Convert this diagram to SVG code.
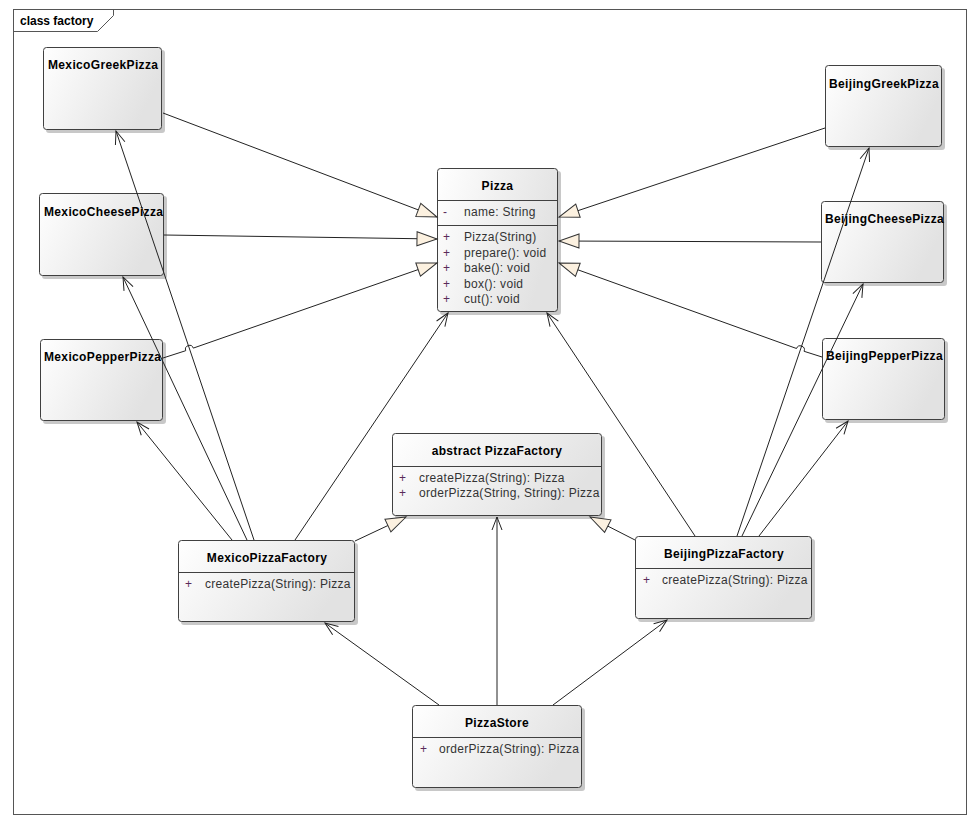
<svg xmlns="http://www.w3.org/2000/svg" width="976" height="826" viewBox="0 0 976 826">
<style>
.box{stroke:#404040;stroke-width:1;fill:url(#g)}
.sh{fill:#9a9a9a;opacity:0.55}
.div{stroke:#404040;stroke-width:1}
.name{font-family:"Liberation Sans",Arial,sans-serif;font-size:12px;font-weight:bold;fill:#000;letter-spacing:0.35px}
.title{font-family:"Liberation Sans",Arial,sans-serif;font-size:12px;font-weight:bold;fill:#000}
.mem{font-family:"Liberation Sans",Arial,sans-serif;font-size:12px;fill:#333;letter-spacing:0.3px}
.vis{font-family:"Liberation Sans",Arial,sans-serif;font-size:12px;fill:#5a2a5a}
.gen{stroke:#222;stroke-width:1;fill:none;marker-end:url(#tri)}
.asc{stroke:#222;stroke-width:1;fill:none;marker-end:url(#open)}
</style>
<defs>
<linearGradient id="g" x1="0" y1="0" x2="1" y2="0.35">
<stop offset="0" stop-color="#ffffff"/>
<stop offset="1" stop-color="#e2e2e2"/>
</linearGradient>
<marker id="tri" markerUnits="userSpaceOnUse" markerWidth="22" markerHeight="16" refX="20" refY="7" orient="auto" overflow="visible">
<path d="M0,0 L20,7 L0,14 Z" fill="#fcf1e0" stroke="#333" stroke-width="1"/>
</marker>
<marker id="open" markerUnits="userSpaceOnUse" markerWidth="14" markerHeight="12" refX="13" refY="5" orient="auto" overflow="visible">
<path d="M0,0 L13,5 L0,10" fill="none" stroke="#222" stroke-width="1"/>
</marker>
</defs>
<rect width="976" height="826" fill="#fff"/>
<g id="frame">
<rect x="13.5" y="9.5" width="953" height="805" fill="none" stroke="#555" stroke-width="1"/>
<path d="M13.5,31.5 H97.5 L113.5,15.5 V9.5" fill="none" stroke="#555" stroke-width="1"/>
<text x="20" y="25" class="title">class factory</text>
</g>
<g id="MexicoGreekPizza">
<rect class="sh" x="46" y="50" width="119" height="83" rx="3"/>
<rect class="box" x="43.5" y="47.5" width="118" height="82" rx="3"/>
<text class="name" x="48" y="69">MexicoGreekPizza</text>
</g>
<g id="MexicoCheesePizza">
<rect class="sh" x="42" y="196" width="125" height="83" rx="3"/>
<rect class="box" x="39.5" y="193.5" width="124" height="82" rx="3"/>
<text class="name" x="44" y="216">MexicoCheesePizza</text>
</g>
<g id="MexicoPepperPizza">
<rect class="sh" x="43" y="342" width="123" height="82" rx="3"/>
<rect class="box" x="40.5" y="339.5" width="122" height="81" rx="3"/>
<text class="name" x="44" y="361">MexicoPepperPizza</text>
</g>
<g id="BeijingGreekPizza">
<rect class="sh" x="828" y="68" width="117" height="82" rx="3"/>
<rect class="box" x="825.5" y="65.5" width="116" height="81" rx="3"/>
<text class="name" x="829" y="88">BeijingGreekPizza</text>
</g>
<g id="BeijingCheesePizza">
<rect class="sh" x="824" y="204" width="123" height="82" rx="3"/>
<rect class="box" x="821.5" y="201.5" width="122" height="81" rx="3"/>
<text class="name" x="825" y="223">BeijingCheesePizza</text>
</g>
<g id="BeijingPepperPizza">
<rect class="sh" x="825" y="341" width="123" height="82" rx="3"/>
<rect class="box" x="822.5" y="338.5" width="122" height="81" rx="3"/>
<text class="name" x="826" y="360">BeijingPepperPizza</text>
</g>
<g id="Pizza">
<rect class="sh" x="440" y="171" width="121" height="144" rx="3"/>
<rect class="box" x="437.5" y="168.5" width="120" height="143" rx="3"/>
<line class="div" x1="437.5" y1="200.5" x2="557.5" y2="200.5"/>
<line class="div" x1="437.5" y1="225.5" x2="557.5" y2="225.5"/>
<text class="name" x="497.5" y="190" text-anchor="middle">Pizza</text>
<text class="vis" x="443" y="216">-</text><text class="mem" x="464" y="216">name: String</text>
<text class="vis" x="443" y="241">+</text><text class="mem" x="464" y="241">Pizza(String)</text>
<text class="vis" x="443" y="257">+</text><text class="mem" x="464" y="257">prepare(): void</text>
<text class="vis" x="443" y="272">+</text><text class="mem" x="464" y="272">bake(): void</text>
<text class="vis" x="443" y="288">+</text><text class="mem" x="464" y="288">box(): void</text>
<text class="vis" x="443" y="303">+</text><text class="mem" x="464" y="303">cut(): void</text>
</g>
<g id="PizzaFactory">
<rect class="sh" x="395" y="436" width="210" height="83" rx="3"/>
<rect class="box" x="392.5" y="433.5" width="209" height="82" rx="3"/>
<line class="div" x1="392.5" y1="466.5" x2="601.5" y2="466.5"/>
<text class="name" x="497" y="455" text-anchor="middle">abstract PizzaFactory</text>
<text class="vis" x="399" y="482">+</text><text class="mem" x="419" y="482">createPizza(String): Pizza</text>
<text class="vis" x="399" y="497">+</text><text class="mem" x="419" y="497">orderPizza(String, String): Pizza</text>
</g>
<g id="MexicoPizzaFactory">
<rect class="sh" x="181" y="543" width="177" height="82" rx="3"/>
<rect class="box" x="178.5" y="540.5" width="176" height="81" rx="3"/>
<line class="div" x1="178.5" y1="572.5" x2="354.5" y2="572.5"/>
<text class="name" x="267" y="562" text-anchor="middle">MexicoPizzaFactory</text>
<text class="vis" x="185" y="588">+</text><text class="mem" x="205" y="588">createPizza(String): Pizza</text>
</g>
<g id="BeijingPizzaFactory">
<rect class="sh" x="638" y="539" width="177" height="83" rx="3"/>
<rect class="box" x="635.5" y="536.5" width="176" height="82" rx="3"/>
<line class="div" x1="635.5" y1="568.5" x2="811.5" y2="568.5"/>
<text class="name" x="724" y="558" text-anchor="middle">BeijingPizzaFactory</text>
<text class="vis" x="643" y="584">+</text><text class="mem" x="662" y="584">createPizza(String): Pizza</text>
</g>
<g id="PizzaStore">
<rect class="sh" x="415" y="708" width="170" height="83" rx="3"/>
<rect class="box" x="412.5" y="705.5" width="169" height="82" rx="3"/>
<line class="div" x1="412.5" y1="737.5" x2="581.5" y2="737.5"/>
<text class="name" x="497" y="727" text-anchor="middle">PizzaStore</text>
<text class="vis" x="420" y="753">+</text><text class="mem" x="439" y="753">orderPizza(String): Pizza</text>
</g>
<g id="connectors">
<path class="gen" d="M163,113 L437,217"/>
<path class="gen" d="M164,235 L437,239"/>
<path class="gen" d="M163,358 L185.7,350.7 A4,4 0 0 1 193.3,348.1 L437,263"/>
<path class="gen" d="M825,128 L559,217"/>
<path class="gen" d="M821,242 L559,241"/>
<path class="gen" d="M822,357 L804.1,351.3 A4,4 0 0 0 796.5,348.5 L559,263"/>
<path class="gen" d="M355,541 L406,517"/>
<path class="gen" d="M635,540 L590,517"/>
<path class="asc" d="M254,540 L116,131"/>
<path class="asc" d="M247,540 L123,277"/>
<path class="asc" d="M232,540 L137,422"/>
<path class="asc" d="M295,540 L448,313"/>
<path class="asc" d="M737,536 L869,148"/>
<path class="asc" d="M742,536 L863,284"/>
<path class="asc" d="M759,536 L848,421"/>
<path class="asc" d="M695,536 L547,313"/>
<path class="asc" d="M439,705 L325,623"/>
<path class="asc" d="M497,705 L497,517"/>
<path class="asc" d="M553,705 L667,620"/>
</g>
</svg>
